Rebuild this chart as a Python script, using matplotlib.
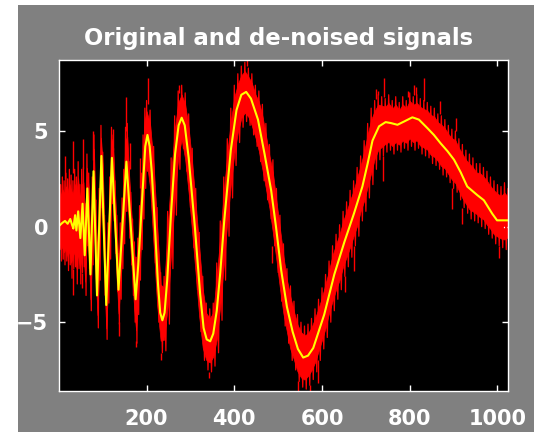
import numpy as np
import matplotlib
matplotlib.use('Agg')
import matplotlib.pyplot as plt
from matplotlib.patches import Rectangle

# ---- de-noised signal (yellow) ----
yel_x = [1, 8, 14, 20, 26, 30, 33, 37, 40, 44,
         49, 54, 59, 65, 72, 79, 87, 97, 108, 121,
         136, 154, 164, 175, 181, 190, 197, 202, 207, 212,
         219, 226, 231, 236, 241, 247, 256, 265, 273, 280,
         287, 296, 310, 322, 330, 337, 345, 352, 360, 368,
         377, 392, 405, 416, 427, 438, 454, 469, 484, 495,
         507, 520, 533, 545, 557, 568, 580, 605, 628, 651,
         673, 692, 704, 715, 730, 745, 757, 772, 787, 806,
         821, 840, 855, 870, 886, 901, 916, 931, 954, 969,
         988, 999, 1024]
yel_y = [0.05, 0.2, 0.3, 0.15, 0.4, 0.1, -0.1, 0.6, -0.2, 0.8,
         -0.6, 1.2, -1.5, 2.0, -2.5, 2.9, -3.6, 3.7, -4.1, 3.6,
         -3.3, 3.4, 0.0, -3.8, -2.0, 1.5, 4.2, 4.8, 4.2, 2.8,
         0.0, -3.0, -4.5, -4.9, -4.5, -2.8, 0.8, 3.8, 5.3, 5.7,
         5.3, 3.6, 0.0, -3.5, -5.3, -5.9, -6.0, -5.6, -4.4, -2.4,
         0.3, 4.0, 6.1, 6.9, 7.05, 6.7, 5.6, 3.8, 1.9, 0.0,
         -2.3, -4.2, -5.5, -6.4, -6.85, -6.75, -6.35, -4.6, -2.5, -0.8,
         0.7, 2.1, 3.3, 4.5, 5.25, 5.47, 5.42, 5.33, 5.5, 5.72,
         5.6, 5.16, 4.8, 4.37, 3.95, 3.5, 2.85, 2.1, 1.65, 1.38,
         0.68, 0.33, 0.33]

# ---- original noisy signal (red): upper / lower extent ----
# fast part: samples 0..200 every 4
red_hi_fast = [1.6, 2.2, 2.6, 2.4, 2.8, 2.5, 3.0, 2.7, 2.4, 3.0,
               2.6, 3.4, 2.2, 3.0, 3.1, 1.2, 3.8, 2.8, -0.4, 2.6,
               4.8, 1.4, -0.8, 2.0, 5.3, 3.9, 0.6, -2.1, 0.2, 2.6,
               5.2, 4.8, 2.4, 0.6, -1.4, 0.2, 1.5, 3.0, 5.2, 5.4,
               3.4, 1.8, 0.4, -0.8, -1.6, -0.6, 1.1, 2.8, 4.8, 6.2,
               6.6]
red_lo_fast = [-1.2, -1.8, -1.7, -2.0, -1.8, -2.3, -2.0, -2.7, -2.2, -2.1,
               -3.0, -2.2, -3.0, -2.4, -2.1, -3.6, -1.0, -2.2, -4.4, -2.0,
               0.0, -3.4, -5.3, -2.8, 1.0, -0.6, -3.6, -5.9, -4.0, -1.7,
               1.2, 0.3, -1.4, -3.4, -5.1, -3.8, -2.2, -0.9, 0.8, 0.8,
               -0.6, -2.0, -3.6, -5.0, -6.1, -4.6, -2.8, -1.2, 0.4, 2.0,
               2.9]
# slow part: samples 208..1024 every 8
red_hi_slow = [6.1, 4.2, 1.0, -2.4, -2.6, 0.8, 3.6, 5.8, 7.1, 7.4,
               7.0, 5.9, 4.1, 2.0, -0.3, -2.6, -4.0, -4.3, -4.0, -1.9,
               0.3, 2.6, 4.6, 6.2, 7.4, 8.0, 8.4, 8.6, 8.3, 8.0,
               7.4, 7.1, 6.4, 5.4, 4.3, 3.5, 2.0, 0.6, -0.9, -2.2,
               -3.1, -3.9, -4.6, -5.0, -5.2, -5.1, -4.8, -4.3, -3.8, -3.2,
               -2.5, -1.8, -1.0, -0.4, 0.1, 0.8, 1.3, 1.9, 2.4, 3.1,
               3.7, 4.5, 5.4, 6.2, 6.6, 6.9, 6.8, 6.7, 6.9, 6.6,
               6.8, 6.5, 6.8, 6.6, 7.0, 6.8, 6.9, 6.7, 6.6, 6.5,
               6.3, 6.2, 5.9, 5.8, 5.6, 5.3, 5.1, 5.0, 4.6, 4.3,
               4.0, 3.8, 3.6, 3.3, 3.3, 3.1, 2.9, 2.6, 2.4, 2.2,
               2.1, 2.3, 2.0]
red_lo_slow = [1.3, -1.9, -5.0, -6.6, -6.5, -5.1, -2.2, 0.6, 3.0, 4.1,
               2.9, 1.0, -1.1, -3.3, -5.5, -7.0, -7.5, -7.6, -7.3, -6.6,
               -4.9, -2.8, -0.5, 1.5, 3.2, 4.4, 5.2, 5.5, 5.3, 4.8,
               4.2, 3.4, 2.4, 1.4, 0.4, -1.0, -2.4, -3.9, -5.2, -6.1,
               -7.0, -7.5, -8.1, -8.4, -8.5, -8.3, -8.0, -7.6, -7.0, -6.4,
               -5.8, -5.0, -4.4, -3.8, -3.3, -2.6, -2.1, -1.6, -1.0, -0.5,
               0.3, 0.8, 1.5, 2.2, 3.0, 3.5, 3.7, 3.9, 4.0, 3.8,
               4.0, 3.9, 4.1, 4.0, 4.2, 4.0, 4.1, 3.8, 3.7, 3.6,
               3.3, 3.2, 3.0, 2.7, 2.6, 2.3, 2.0, 1.8, 1.4, 1.0,
               0.7, 0.4, 0.3, 0.2, 0.0, -0.1, -0.4, -0.6, -0.9, -1.0,
               -1.1, -1.2, -1.0]

# isolated noise spikes of the red signal
spike_x = [14, 33, 56, 78, 123, 154, 162, 186, 203, 275, 430, 723, 727, 741, 795, 810,
           814, 833, 868, 905,
           33, 52, 137, 177, 232, 343, 545, 572, 591, 674, 738, 897, 920, 1003, 486, 652]
spike_base = [2.5, 2.8, 3.0, 3.5, 4.0, 5.0, 3.0, 2.0, 6.4, 7.0, 8.4, 6.7, 6.9, 6.8, 6.8, 6.9,
              6.9, 6.6, 5.9, 5.0,
              -2.2, -2.4, -5.0, -6.0, -6.6, -7.6, -8.1, -8.3, -7.0, -1.0, 3.7, 2.0, 1.0, -1.0,
              -1.0, -2.6]
spike_tip = [3.7, 4.5, 4.6, 5.0, 5.1, 6.8, 4.4, 3.6, 7.8, 7.4, 8.72, 7.2, 7.1, 7.8, 7.1, 7.4,
             7.3, 7.8, 6.6, 5.7,
             -3.6, -3.2, -5.7, -6.3, -7.0, -7.9, -8.6, -8.6, -8.2, -2.3, 2.4, 0.9, 0.15, -1.65,
             -1.9, -3.4]

x_ticks = [200, 400, 600, 800, 1000]
y_ticks = [-5, 0, 5]
title_text = "Original and de-noised signals"

red_x_fast = np.arange(len(red_hi_fast)) * 4.0
red_x_slow = 208 + np.arange(len(red_hi_slow)) * 8.0
red_x = np.concatenate([red_x_fast, red_x_slow])
red_hi = np.concatenate([red_hi_fast, red_hi_slow])
red_lo = np.concatenate([red_lo_fast, red_lo_slow])
red_step = np.concatenate([np.full(len(red_hi_fast), 4.0), np.full(len(red_hi_slow), 8.0)])

# zig-zag path of the noisy signal: top value, then bottom value half a step later
zz_x = np.empty(2 * len(red_x))
zz_y = np.empty(2 * len(red_x))
zz_x[0::2] = red_x
zz_x[1::2] = red_x + red_step / 2
zz_y[0::2] = red_hi
zz_y[1::2] = red_lo

W, H = 534, 432
fig = plt.figure(figsize=(W / 100, H / 100), dpi=100, facecolor='white')
fig.add_artist(Rectangle((18 / W, 0), 1 - 18 / W, (H - 5) / H, transform=fig.transFigure,
                         facecolor='#808080', edgecolor='none', zorder=-5))

ax = fig.add_axes([59.3 / W, (H - 391) / H, (508 - 59.3) / W, (391 - 60) / H])
ax.set_facecolor('black')

core_lo = red_lo + 0.15 * (red_hi - red_lo)
core_hi = red_hi - 0.15 * (red_hi - red_lo)
ax.fill_between(red_x, core_lo, core_hi, facecolor='#ff0000', edgecolor='#ff0000', linewidth=0.5)
ax.plot(zz_x, zz_y, color='#ff0000', linewidth=0.9)
ax.vlines(spike_x, spike_base, spike_tip, colors='#ff0000', linewidth=1.0)
ax.plot(yel_x, yel_y, color='#ffff00', linewidth=1.5)

ax.set_xlim(1, 1024)
ax.set_ylim(-8.6, 8.72)
ax.set_xticks(x_ticks)
ax.set_yticks(y_ticks)
for sp in ax.spines.values():
    sp.set_color('white')
    sp.set_linewidth(1.0)
ax.tick_params(axis='both', colors='white', direction='in', length=4, width=1,
               top=True, right=True, labelsize=15)
ax.tick_params(axis='x', pad=13)
ax.tick_params(axis='y', pad=8)
for lab in ax.get_xticklabels() + ax.get_yticklabels():
    lab.set_fontfamily('DejaVu Sans')
    lab.set_fontweight('bold')

fig.text(279 / W, 1 - 44.5 / H, title_text, ha='center', va='baseline', color='white',
         fontsize=16.4, fontweight='bold', family='DejaVu Sans')

fig.savefig('out.png', dpi=100, facecolor=fig.get_facecolor())
